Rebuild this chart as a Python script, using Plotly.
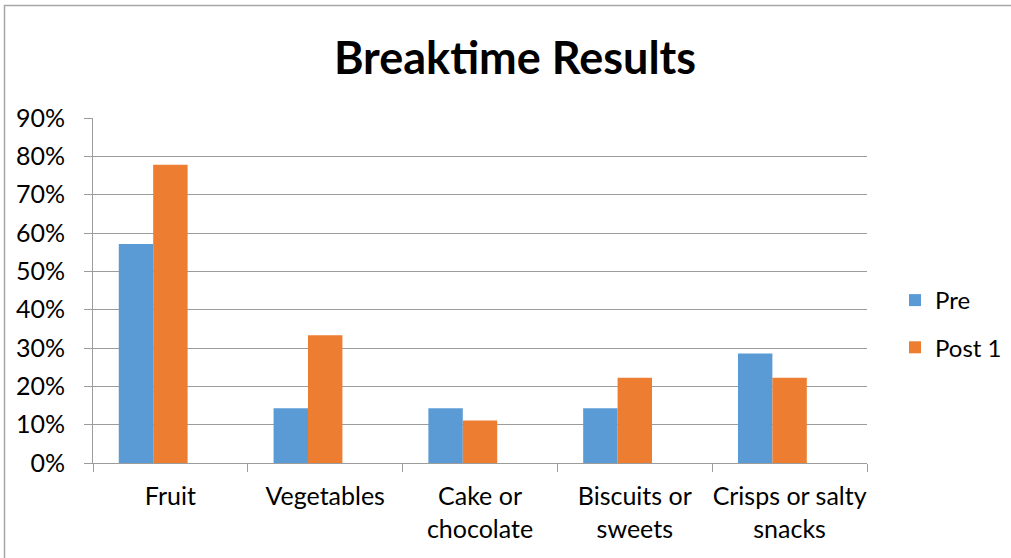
import plotly.graph_objects as go

categories = ["Fruit", "Vegetables", "Cake or<br>chocolate", "Biscuits or<br>sweets", "Crisps or salty<br>snacks"]
pre = [4/7, 1/7, 1/7, 1/7, 2/7]
post1 = [7/9, 3/9, 1/9, 2/9, 2/9]
# third series slot is reserved in each group but holds no values
post2 = [None, None, None, None, None]
y_ticks = [0, 0.1, 0.2, 0.3, 0.4, 0.5, 0.6, 0.7, 0.8, 0.9]

FONT = "Lato"
GRID = "#9c9c9c"

fig = go.Figure()
fig.add_trace(go.Bar(name="Pre", x=categories, y=pre, marker_color="#5B9BD5",
                     marker_line_width=0, legendgroup="pre"))
fig.add_trace(go.Bar(name="Post 1", x=categories, y=post1, marker_color="#ED7D31",
                     marker_line_width=0, legendgroup="post"))
fig.add_trace(go.Bar(name="Post 2", x=categories, y=post2, marker_color="#A5A5A5",
                     marker_line_width=0, showlegend=False, hoverinfo="skip"))

W, H = 1011, 558
L, R, T, B = 93, 144, 118, 95
pw, ph = W - L - R, H - T - B

def px_x(v):
    return (v - L) / pw

def px_y(v):
    return (H - B - v) / ph

fig.update_layout(
    width=W, height=H,
    margin=dict(l=L, r=R, t=T, b=B, pad=0, autoexpand=False),
    paper_bgcolor="white", plot_bgcolor="white",
    font=dict(family=FONT, size=25, color="#000000"),
    title=dict(text="<b>Breaktime Results</b>", x=515 / W, xanchor="center",
               y=1 - 58 / H, yanchor="middle",
               font=dict(family=FONT, size=45, color="#000000")),
    barmode="group", bargap=0.333, bargroupgap=0,
    legend=dict(xref="container", yref="container",
                x=895 / W, xanchor="left", y=1 - 278 / H, yanchor="top",
                font=dict(family=FONT, size=24), tracegroupgap=13,
                itemwidth=30, bgcolor="rgba(0,0,0,0)"),
    xaxis=dict(showline=True, linecolor=GRID, linewidth=1,
               ticks="outside", tickson="boundaries", ticklen=8, tickcolor=GRID,
               showgrid=False, tickfont=dict(family=FONT, size=25),
               tickangle=0, ticklabelstandoff=11),
    yaxis=dict(range=[0, 0.9], tickvals=y_ticks, tickformat=".0%",
               showline=True, linecolor=GRID, linewidth=1,
               ticks="outside", ticklen=8, tickcolor=GRID,
               showgrid=True, gridcolor=GRID, gridwidth=1,
               zeroline=False, tickfont=dict(family=FONT, size=25),
               ticklabelstandoff=14),
    shapes=[dict(type="rect", xref="paper", yref="paper",
                 x0=px_x(4.5), x1=px_x(1014), y0=px_y(561), y1=px_y(5.5),
                 line=dict(color="#A6A6A6", width=1.5), fillcolor="rgba(0,0,0,0)",
                 layer="below")],
)

fig.write_html("out.html")
